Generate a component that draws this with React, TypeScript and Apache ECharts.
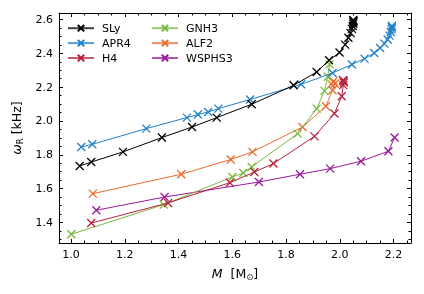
import React, { useEffect, useRef } from "react";
import * as echarts from "echarts";

// Data: [M (Msun), omega_R (kHz)]
const slyData = [
  [1.032, 1.734], [1.075, 1.757], [1.193, 1.817], [1.338, 1.902], [1.45, 1.964],
  [1.542, 2.02], [1.672, 2.099], [1.828, 2.211], [1.914, 2.29], [1.96, 2.359],
  [1.999, 2.405], [2.02, 2.452], [2.032, 2.493], [2.04, 2.52], [2.045, 2.545],
  [2.048, 2.562], [2.05, 2.575], [2.051, 2.585], [2.051, 2.592], [2.05, 2.598],
];
const apr4Data = [
  [1.038, 1.846], [1.079, 1.862], [1.28, 1.955], [1.431, 2.02], [1.472, 2.038],
  [1.51, 2.053], [1.548, 2.073], [1.666, 2.127], [1.856, 2.217], [1.973, 2.284],
  [2.045, 2.334], [2.092, 2.369], [2.128, 2.402], [2.15, 2.432], [2.166, 2.458],
  [2.178, 2.482], [2.185, 2.505], [2.19, 2.527], [2.193, 2.542], [2.194, 2.553],
  [2.194, 2.562],
];
const h4Data = [
  [1.075, 1.396], [1.361, 1.515], [1.591, 1.635], [1.682, 1.698], [1.753, 1.748],
  [1.906, 1.909], [1.98, 2.044], [2.007, 2.146], [2.013, 2.212], [2.015, 2.228],
  [2.014, 2.238], [2.012, 2.242],
];
const gnh3Data = [
  [1.001, 1.33], [1.345, 1.505], [1.6, 1.669], [1.641, 1.692], [1.672, 1.728],
  [1.843, 1.925], [1.914, 2.073], [1.943, 2.178], [1.955, 2.262], [1.962, 2.335],
];
const alf2Data = [
  [1.081, 1.57], [1.41, 1.685], [1.594, 1.772], [1.675, 1.817], [1.861, 1.964],
  [1.948, 2.087], [1.973, 2.182], [1.982, 2.222], [1.977, 2.236], [1.969, 2.218],
];
const wsphs3Data = [
  [1.094, 1.472], [1.348, 1.55], [1.699, 1.639], [1.852, 1.685], [1.964, 1.718],
  [2.079, 1.762], [2.181, 1.821], [2.204, 1.902],
];

const seriesNames = ["SLy", "APR4", "H4", "GNH3", "ALF2", "WSPHS3"];
const seriesColors = ["#000000", "#1f80c8", "#b8203c", "#78b83c", "#e96a2c", "#9a189a"];
const seriesData = [slyData, apr4Data, h4Data, gnh3Data, alf2Data, wsphs3Data];

const xMajorTicks = [1.0, 1.2, 1.4, 1.6, 1.8, 2.0, 2.2];
const xMinorTicks = [1.05, 1.1, 1.15, 1.25, 1.3, 1.35, 1.45, 1.5, 1.55, 1.65, 1.7, 1.75, 1.85, 1.9, 1.95, 2.05, 2.1, 2.15, 2.25];
const yMajorTicks = [1.4, 1.6, 1.8, 2.0, 2.2, 2.4, 2.6];
const yMinorTicks = [1.3, 1.35, 1.45, 1.5, 1.55, 1.65, 1.7, 1.75, 1.85, 1.9, 1.95, 2.05, 2.1, 2.15, 2.25, 2.3, 2.35, 2.45, 2.5, 2.55];

const X_MIN = 0.955;
const X_MAX = 2.265;
const Y_MIN = 1.278;
const Y_MAX = 2.639;

const FONT = "DejaVu Sans";
const CROSS = "path://M0,0L10,10M10,0L0,10";

export default function App() {
  const ref = useRef<HTMLDivElement>(null);
  useEffect(() => {
    if (!ref.current) return;
    const chart = echarts.init(ref.current, undefined, { renderer: "svg" });

    const makeX = (pos: "bottom" | "top", ticks: number[], len: number, labels: boolean, line: boolean, name?: any) => ({
      type: "value",
      position: pos,
      min: X_MIN,
      max: X_MAX,
      gridIndex: 0,
      splitLine: { show: false },
      axisLine: { show: line, onZero: false, lineStyle: { color: "#000", width: 1 } },
      axisTick: { show: true, inside: true, length: len, customValues: ticks, lineStyle: { color: "#000", width: 1 } },
      axisLabel: labels
        ? { show: true, customValues: ticks, formatter: (v: number) => v.toFixed(1), color: "#000", fontSize: 11, fontFamily: FONT, margin: 6 }
        : { show: false },
      ...(name || {}),
    });
    const makeY = (pos: "left" | "right", ticks: number[], len: number, labels: boolean, line: boolean, name?: any) => ({
      type: "value",
      position: pos,
      min: Y_MIN,
      max: Y_MAX,
      gridIndex: 0,
      splitLine: { show: false },
      axisLine: { show: line, onZero: false, lineStyle: { color: "#000", width: 1 } },
      axisTick: { show: true, inside: true, length: len, customValues: ticks, lineStyle: { color: "#000", width: 1 } },
      axisLabel: labels
        ? { show: true, customValues: ticks, formatter: (v: number) => v.toFixed(1), color: "#000", fontSize: 11, fontFamily: FONT, margin: 6 }
        : { show: false },
      ...(name || {}),
    });

    const richName = {
      i: { fontFamily: FONT, fontSize: 12.5, fontStyle: "italic", color: "#000", lineHeight: 16 },
      n: { fontFamily: FONT, fontSize: 12.5, color: "#000", lineHeight: 16 },
      s: { fontFamily: FONT, fontSize: 8.5, color: "#000", verticalAlign: "bottom", lineHeight: 16 },
    };
    const xName = {
      name: "{i|M}{n|  [M}{s|⊙}{n|]}",
      nameLocation: "middle",
      nameGap: 22,
      nameTextStyle: { rich: richName },
    };
    const yName = {
      name: "{i|ω}{s|R}{n| [kHz]}",
      nameLocation: "middle",
      nameRotate: 90,
      nameGap: 29,
      nameTextStyle: { rich: richName },
    };

    const legendBase = {
      orient: "vertical",
      top: 22.5,
      itemWidth: 26,
      itemHeight: 8,
      itemGap: 3.5,
      padding: 0,
      lineStyle: { width: 2, opacity: 0.75 },
      textStyle: { fontFamily: FONT, fontSize: 11, color: "#000", padding: [0, 0, 0, 3] },
    };

    chart.setOption({
      animation: false,
      grid: { left: 59, right: 13, top: 13, bottom: 51, outerBoundsMode: "none", containLabel: false },
      legend: [
        { ...legendBase, left: 67, data: seriesNames.slice(0, 3) },
        { ...legendBase, left: 151, data: seriesNames.slice(3) },
      ],
      xAxis: [
        makeX("bottom", xMajorTicks, 4, true, true, xName),
        makeX("bottom", xMinorTicks, 2.5, false, false),
        makeX("top", xMajorTicks, 4, false, true),
        makeX("top", xMinorTicks, 2.5, false, false),
      ],
      yAxis: [
        makeY("left", yMajorTicks, 4, true, true, yName),
        makeY("left", yMinorTicks, 2.5, false, false),
        makeY("right", yMajorTicks, 4, false, true),
        makeY("right", yMinorTicks, 2.5, false, false),
      ],
      series: seriesData.map((d, i) => ({
        type: "line",
        name: seriesNames[i],
        data: d,
        xAxisIndex: 0,
        yAxisIndex: 0,
        symbol: CROSS,
        symbolSize: 8,
        showAllSymbol: true,
        lineStyle: { color: seriesColors[i], width: 1 },
        itemStyle: { color: "none", borderColor: seriesColors[i], borderWidth: 1.3 },
        color: seriesColors[i],
        z: 10 - i,
      })),
    });
    return () => chart.dispose();
  }, []);
  return <div ref={ref} style={{ position: "fixed", left: 0, top: 0, width: 424, height: 294 }} />;
}
